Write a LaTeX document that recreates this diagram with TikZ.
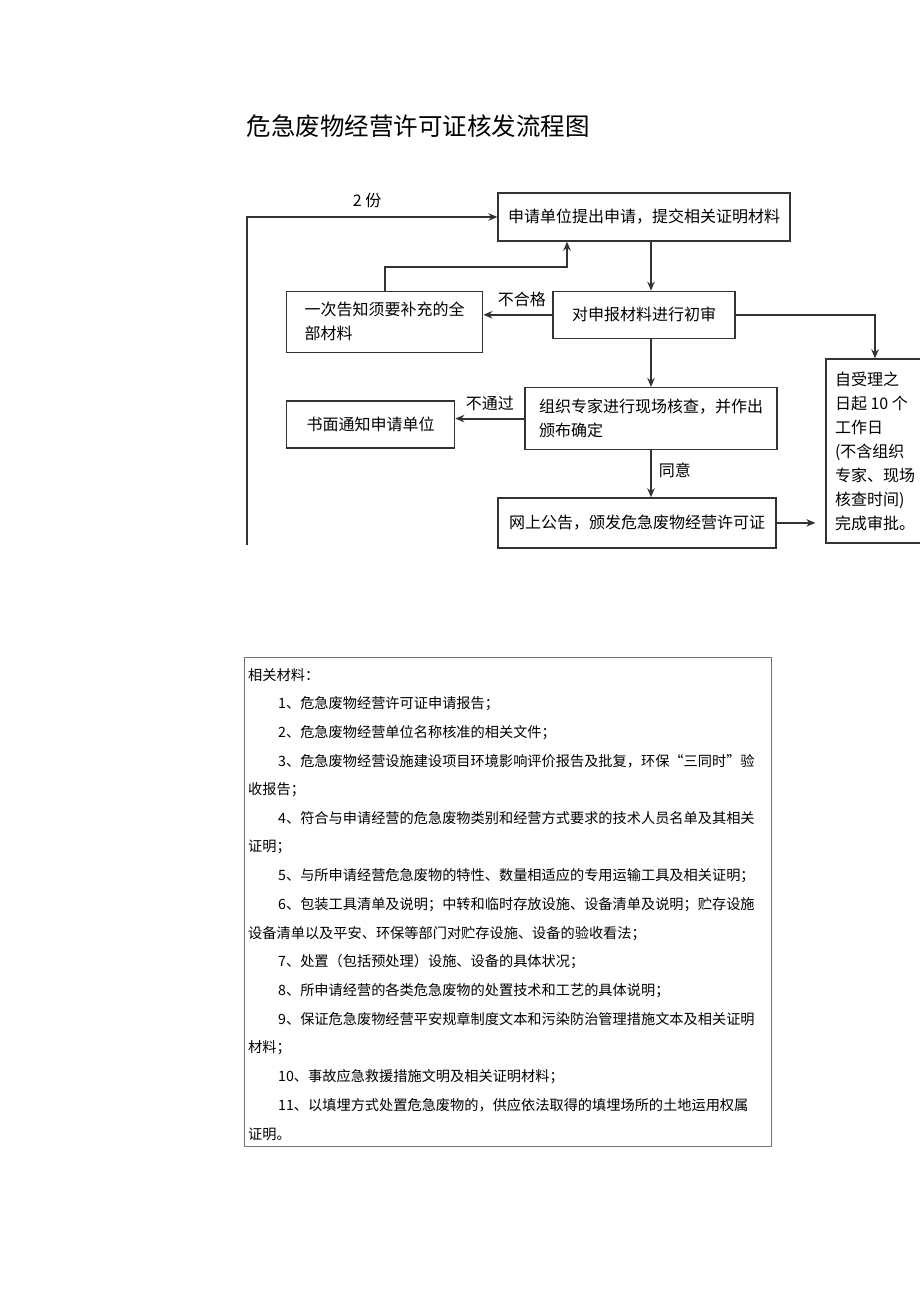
\documentclass[tikz,border=0pt]{standalone}
\usepackage{fontspec}
\setmainfont{Noto Sans CJK SC}
\usetikzlibrary{positioning, arrows.meta}
\XeTeXlinebreaklocale "zh"
\XeTeXlinebreakskip=0pt plus 1pt
\setlength{\parindent}{0pt}
\newcommand\fillline{\parfillskip=0pt\relax}

\begin{document}
\begin{tikzpicture}[x=1pt, y=-1pt,
  stepbox/.style={draw=black!80, line width=1.3pt, minimum height=47pt, inner sep=0pt,
                  font=\fontsize{16}{24}\selectfont, align=left},
  arr/.style={-{Stealth[length=9pt, width=7.5pt]}, line width=1.8pt, draw=black!80},
  lbl/.style={font=\fontsize{16}{20}\selectfont, inner sep=2pt},
  headline/.style={font=\fontsize{24.5}{28}\selectfont},
  tblbox/.style={draw=black!55, line width=0.9pt},
  mitem/.style={anchor=west, inner sep=0pt, font=\fontsize{14.2}{18}\selectfont},
  fullitem/.style={mitem, text width=490pt, align=justify},
]
\useasboundingbox (0,0) rectangle (920,1301);

% Title
\node[headline] (title) at (418,126) {危急废物经营许可证核发流程图};

% Application and first check
\node[stepbox, minimum width=292pt, minimum height=48pt] (b1) at (644,217)
  {申请单位提出申请，提交相关证明材料};
\node[stepbox, minimum width=182pt, below=49pt of b1] (b2) {对申报材料进行初审};
\node[stepbox, minimum width=196pt, minimum height=61pt, left=69pt of b2, yshift=-7pt] (b3)
  {一次告知须要补充的全\\部材料};

% Site check and result
\node[stepbox, minimum width=252pt, minimum height=62pt, below=48pt of b2, xshift=7pt] (b6)
  {组织专家进行现场核查，并作出\\颁布确定};
\node[stepbox, minimum width=168pt, left=69pt of b6, yshift=-6pt] (b7) {书面通知申请单位};
\node[stepbox, minimum width=278pt, minimum height=50pt, below=47pt of b6, xshift=-14pt] (b5)
  {网上公告，颁发危急废物经营许可证};

% Time limit (cut at the right edge)
\node[stepbox, minimum width=98pt, minimum height=184pt] (b4) at (875,451)
  {自受理之\\日起 10 个\\工作日\\(不含组织\\专家、现场\\核查时间)\\完成审批。};

% Arrows
\coordinate (lstart) at (247,545);
\draw[arr] (lstart) |- node[lbl, pos=0.74, above, yshift=6pt] {2 份} (b1.west);
\draw[arr] (b1.south -| b6.north) -- (b2.north -| b6.north);
\draw[arr] (b2.west) -- node[lbl, above, yshift=5pt, xshift=4pt] {不合格} (b2.west -| b3.east);
\draw[arr] (b3.north) -- ++(0,-24) -| ([xshift=-77pt]b1.south);
\draw[arr] (b2.east) -| (b4.north);
\draw[arr] (b2.south -| b6.north) -- (b6.north);
\draw[arr] (b6.west) -- node[lbl, above, yshift=5pt] {不通过} (b6.west -| b7.east);
\draw[arr] (b6.south) -- node[lbl, right, xshift=5pt, yshift=3pt] {同意} (b6.south |- b5.north);
\draw[arr, shorten >=10pt] (b5.east) -- (b5.east -| b4.west);

% Material list
\node[tblbox, minimum width=527pt, minimum height=489pt] (tbl) at (507.5,901.5) {};
\node[mitem] (t0) at (248,675.0) {相关材料：};
\node[mitem] (t1) at (278,703.7) {1、危急废物经营许可证申请报告；};
\node[mitem] (t2) at (278,732.4) {2、危急废物经营单位名称核准的相关文件；};
\node[fullitem] (t3) at (278,761.1) {\fillline 3、危急废物经营设施建设项目环境影响评价报告及批复，环保“三同时”验};
\node[mitem] (t4) at (248,789.8) {收报告；};
\node[fullitem] (t5) at (278,818.5) {\fillline 4、符合与申请经营的危急废物类别和经营方式要求的技术人员名单及其相关};
\node[mitem] (t6) at (248,847.2) {证明；};
\node[fullitem] (t7) at (278,875.9) {\fillline 5、与所申请经营危急废物的特性、数量相适应的专用运输工具及相关证明；};
\node[fullitem] (t8) at (278,904.6) {\fillline 6、包装工具清单及说明；中转和临时存放设施、设备清单及说明；贮存设施};
\node[mitem] (t9) at (248,933.3) {设备清单以及平安、环保等部门对贮存设施、设备的验收看法；};
\node[mitem] (t10) at (278,962.0) {7、处置（包括预处理）设施、设备的具体状况；};
\node[mitem] (t11) at (278,990.7) {8、所申请经营的各类危急废物的处置技术和工艺的具体说明；};
\node[fullitem] (t12) at (278,1019.4) {\fillline 9、保证危急废物经营平安规章制度文本和污染防治管理措施文本及相关证明};
\node[mitem] (t13) at (248,1048.1) {材料；};
\node[mitem] (t14) at (278,1076.8) {10、事故应急救援措施文明及相关证明材料；};
\node[fullitem] (t15) at (278,1105.5) {\fillline 11、以填埋方式处置危急废物的，供应依法取得的填埋场所的土地运用权属};
\node[mitem] (t16) at (248,1134.2) {证明。};

\end{tikzpicture}
\end{document}
